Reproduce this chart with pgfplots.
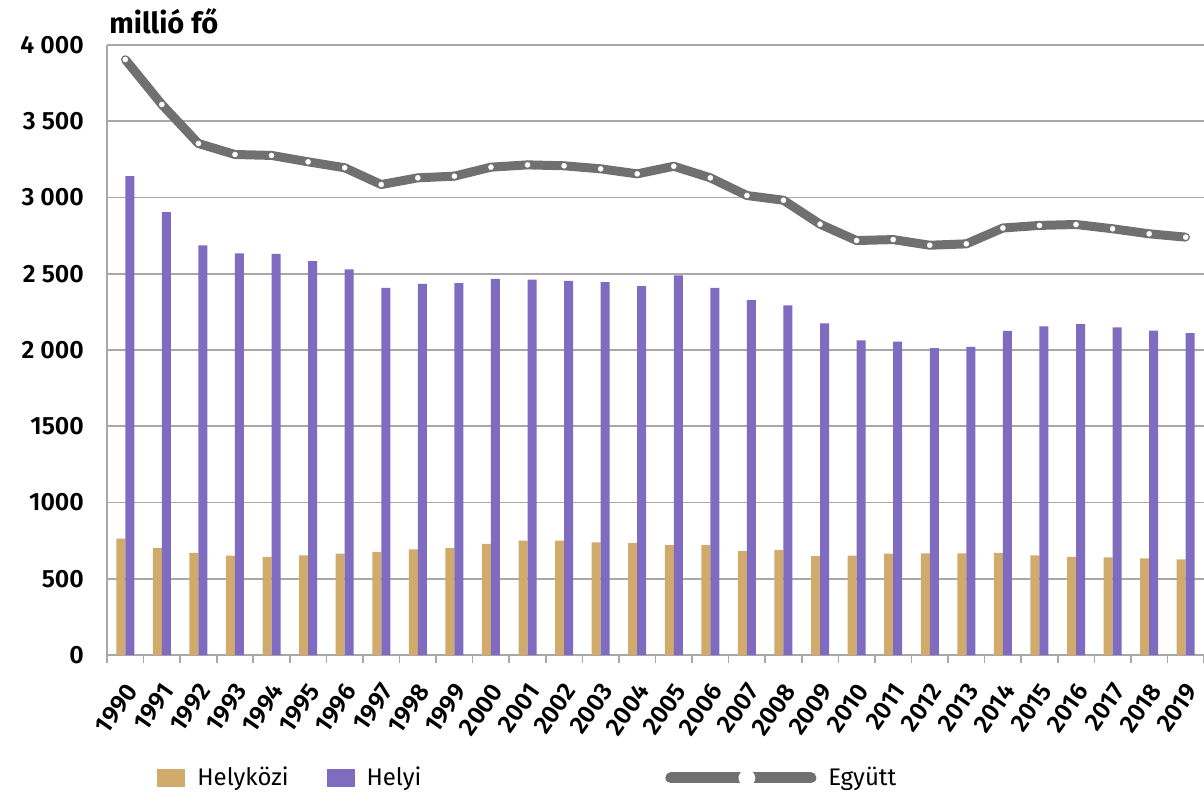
\documentclass[border=0pt]{standalone}
\usepackage{fontspec}
\setmainfont{Fira Sans}
\newfontfamily\semib{Fira Sans}[UprightFont={* SemiBold}]
\usepackage{pgfplots}
\pgfplotsset{compat=1.18}

\definecolor{hkTan}{HTML}{D1AB6B}
\definecolor{helyiPurple}{HTML}{7F6BBF}
\definecolor{egyGray}{HTML}{707070}
\definecolor{gridGray}{HTML}{A8A8A8}

% millió fő
\pgfplotstableread{
i year helykozi helyi egyutt
0 1990 763 3140 3905
1 1991 703 2904 3610
2 1992 670 2686 3354
3 1993 651 2633 3282
4 1994 644 2630 3276
5 1995 653 2583 3234
6 1996 664 2528 3195
7 1997 677 2408 3085
8 1998 692 2434 3129
9 1999 703 2438 3140
10 2000 728 2467 3199
11 2001 750 2461 3214
12 2002 750 2454 3208
13 2003 739 2445 3188
14 2004 733 2419 3155
15 2005 720 2489 3205
16 2006 720 2408 3129
17 2007 681 2327 3013
18 2008 690 2292 2982
19 2009 649 2174 2825
20 2010 651 2063 2718
21 2011 664 2055 2724
22 2012 666 2013 2687
23 2013 666 2020 2696
24 2014 670 2125 2800
25 2015 653 2155 2817
26 2016 644 2170 2823
27 2017 640 2148 2795
28 2018 634 2127 2762
29 2019 627 2111 2740
}\data

\begin{document}
\begin{tikzpicture}
\useasboundingbox (0,0) rectangle (602pt,399.5pt);
\begin{axis}[
    at={(53.5pt,72pt)}, anchor=south west,
    scale only axis, width=548.5pt, height=305pt,
    xmin=-0.5, xmax=29.5, ymin=0, ymax=4000,
    axis lines=left,
    axis line style={draw=gridGray, line width=0.8pt, -},
    ymajorgrids,
    grid style={draw=gridGray, line width=0.8pt},
    ytick={0,500,...,4000},
    yticklabels={0,500,1000,1500,2 000,2 500,3 000,3 500,4 000},
    xtick={0,...,29},
    xticklabels={1990,1991,1992,1993,1994,1995,1996,1997,1998,1999,2000,2001,2002,2003,2004,2005,2006,2007,2008,2009,2010,2011,2012,2013,2014,2015,2016,2017,2018,2019},
    minor xtick={-0.5,0.5,...,29.5},
    major tick length=0pt,
    minor tick length=4pt,
    tick align=outside,
    minor tick style={draw=gridGray, line width=0.8pt},
    xticklabel style={xshift=-0.5pt, yshift=-13pt, rotate=55, anchor=north east, inner sep=0pt, font=\semib\fontsize{12.5}{12.5}\selectfont},
    yticklabel style={xshift=-8pt, font=\semib\fontsize{12.5}{12.5}\selectfont},
    clip=false,
    legend columns=3,
    legend cell align=left,
    legend style={at={(axis description cs:0.0456,-0.2016)}, anchor=west, draw=none, fill=none, inner sep=0pt,
        font=\fontsize{12}{12}\selectfont,
        /tikz/every odd column/.style={column sep=4pt},
        /tikz/column 2/.style={column sep=17pt},
        /tikz/column 4/.style={column sep=120pt}},
]
\addplot[ybar, bar width=4.5pt, bar shift=-2.25pt, fill=hkTan, draw=none,
    legend image code/.code={\fill[hkTan] (0pt,-4.5pt) rectangle (14pt,4.5pt);}]
    table[x=i, y=helykozi] {\data};
\addlegendentry{Helyközi}
\addplot[ybar, bar width=4.5pt, bar shift=2.25pt, fill=helyiPurple, draw=none,
    legend image code/.code={\fill[helyiPurple] (0pt,-4.5pt) rectangle (14pt,4.5pt);}]
    table[x=i, y=helyi] {\data};
\addlegendentry{Helyi}
\addplot[egyGray, line width=4.5pt, line join=round, mark=*, mark size=1.8pt,
    mark options={fill=white, draw=egyGray, line width=0.6pt},
    legend image code/.code={\draw[egyGray, line width=5.5pt, line cap=round] (0pt,0pt) -- (70pt,0pt);
        \fill[white] (38pt,0pt) circle (2pt);}]
    table[x=i, y=egyutt] {\data};
\addlegendentry{Együtt}
\node[anchor=base west, font=\bfseries\fontsize{14.5}{14.5}\selectfont, inner sep=0pt]
    at (rel axis cs:0,1) [xshift=1pt, yshift=6pt] {millió fő};
\end{axis}
\end{tikzpicture}
\end{document}
